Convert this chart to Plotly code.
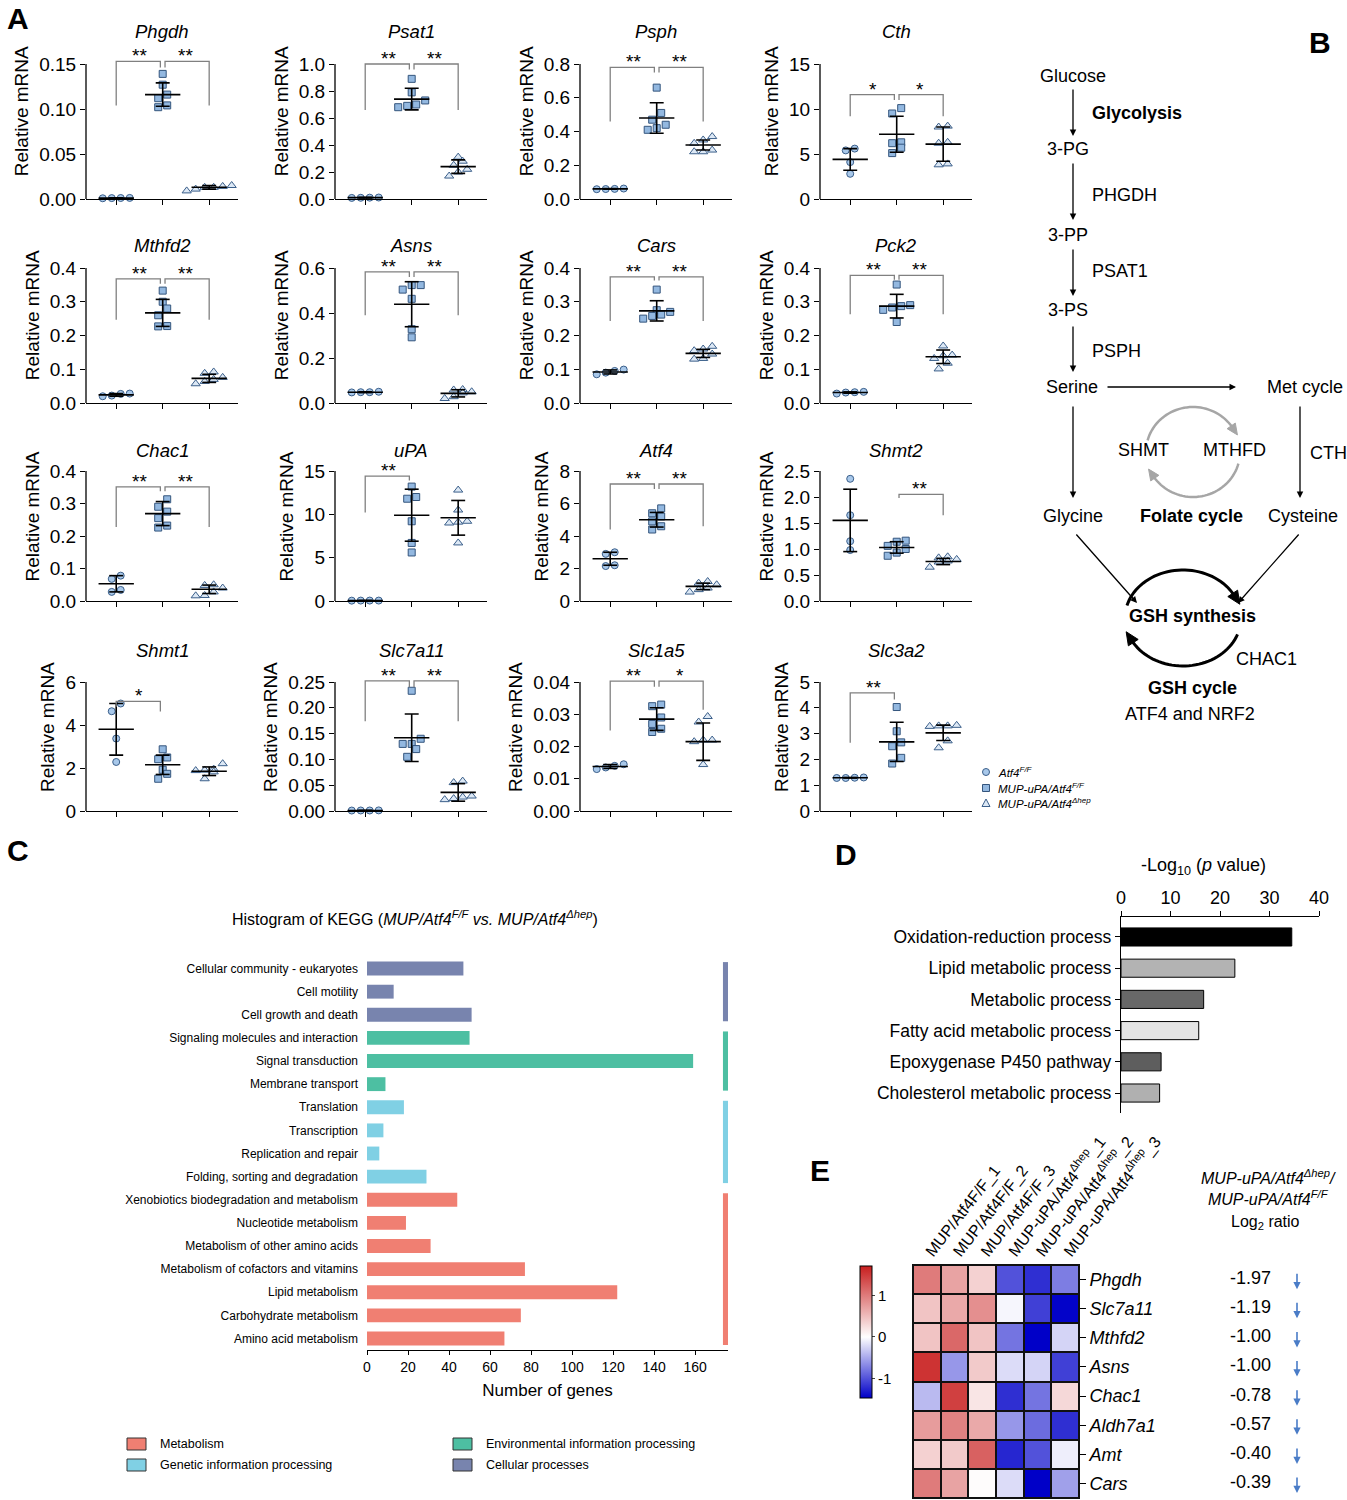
import math
import plotly.graph_objects as go

W, H = 1347, 1500
FONT = "Arial, Liberation Sans, Helvetica, sans-serif"

# ---------------- Panel A data ----------------
GENES = ["Phgdh", "Psat1", "Psph", "Cth",
         "Mthfd2", "Asns", "Cars", "Pck2",
         "Chac1", "uPA", "Atf4", "Shmt2",
         "Shmt1", "Slc7a11", "Slc1a5", "Slc3a2"]
Y_TOP = [0.15, 1.0, 0.8, 15, 0.4, 0.6, 0.4, 0.4, 0.4, 15, 8, 2.5, 6, 0.25, 0.04, 5]
Y_STEP = [0.05, 0.2, 0.2, 5, 0.1, 0.2, 0.1, 0.1, 0.1, 5, 2, 0.5, 2, 0.05, 0.01, 1]
Y_DEC = [2, 1, 1, 0, 1, 1, 1, 1, 1, 0, 0, 1, 0, 2, 2, 0]

WT_PTS = [
    [0.0012, 0.0008, 0.0010, 0.0011],
    [0.010, 0.008, 0.009, 0.011],
    [0.058, 0.062, 0.060, 0.059],
    [5.6, 5.4, 4.1, 2.8],
    [0.020, 0.028, 0.022, 0.027],
    [0.048, 0.050, 0.048, 0.047],
    [0.099, 0.095, 0.085, 0.090],
    [0.028, 0.033, 0.031, 0.032],
    [0.078, 0.068, 0.034, 0.028],
    [0.05, 0.05, 0.04, 0.05],
    [3.0, 2.9, 2.2, 2.15],
    [2.35, 1.65, 1.15, 0.98],
    [5.0, 4.64, 3.37, 2.28],
    [0.001, 0.001, 0.0012, 0.0009],
    [0.0145, 0.014, 0.0135, 0.013],
    [1.30, 1.28, 1.29, 1.28],
]
MUP_PTS = [
    [0.139, 0.127, 0.116, 0.112, 0.102, 0.104],
    [0.89, 0.79, 0.73, 0.70, 0.68, 0.69],
    [0.66, 0.51, 0.47, 0.44, 0.42, 0.41],
    [10.1, 9.5, 6.3, 6.2, 5.7, 5.1],
    [0.333, 0.30, 0.28, 0.26, 0.228, 0.227],
    [0.524, 0.524, 0.504, 0.463, 0.328, 0.292],
    [0.336, 0.275, 0.27, 0.262, 0.258, 0.25],
    [0.351, 0.29, 0.287, 0.283, 0.276, 0.24],
    [0.313, 0.29, 0.275, 0.255, 0.232, 0.226],
    [13.2, 12.0, 11.8, 9.2, 6.7, 5.6],
    [5.7, 5.4, 5.2, 4.9, 4.6, 4.4],
    [1.16, 1.14, 1.06, 1.0, 0.93, 0.87],
    [2.87, 2.49, 2.41, 1.92, 1.73, 1.5],
    [0.233, 0.14, 0.13, 0.13, 0.12, 0.105],
    [0.033, 0.0325, 0.029, 0.027, 0.0255, 0.0245],
    [4.03, 3.09, 2.66, 2.51, 2.06, 1.84],
]
HEP_PTS = [
    [0.011, 0.015, 0.013, 0.013, 0.009, 0.014],
    [0.31, 0.28, 0.25, 0.22, 0.20, 0.17],
    [0.37, 0.35, 0.33, 0.29, 0.28, 0.28],
    [8.1, 8.0, 6.3, 6.2, 3.8, 3.9],
    [0.088, 0.092, 0.076, 0.070, 0.064, 0.057],
    [0.06, 0.058, 0.05, 0.045, 0.028, 0.02],
    [0.168, 0.16, 0.155, 0.145, 0.132, 0.13],
    [0.169, 0.142, 0.14, 0.132, 0.118, 0.101],
    [0.05, 0.048, 0.04, 0.028, 0.016, 0.017],
    [12.8, 10.5, 9.2, 9.0, 9.1, 6.7],
    [1.2, 1.1, 1.0, 0.8, 0.7, 0.55],
    [0.85, 0.83, 0.80, 0.77, 0.75, 0.65],
    [2.2, 1.95, 1.9, 1.88, 1.82, 1.5],
    [0.058, 0.055, 0.029, 0.027, 0.024, 0.022],
    [0.0293, 0.0276, 0.022, 0.0215, 0.022, 0.0144],
    [3.32, 3.30, 3.28, 3.30, 2.72, 2.45],
]
WT_MEAN = [0.001, 0.01, 0.06, 4.4, 0.024, 0.048, 0.092, 0.031, 0.053, 0.05, 2.6, 1.55, 3.8, 0.001, 0.0138, 1.29]
WT_SD = [0.0002, 0.002, 0.002, 1.2, 0.004, 0.002, 0.006, 0.002, 0.025, 0.005, 0.4, 0.6, 1.2, 0.0002, 0.0006, 0.01]
MUP_MEAN = [0.116, 0.74, 0.48, 7.2, 0.267, 0.439, 0.273, 0.287, 0.269, 9.9, 5.0, 1.03, 2.15, 0.142, 0.0285, 2.68]
MUP_SD = [0.013, 0.08, 0.09, 2.0, 0.04, 0.10, 0.03, 0.035, 0.037, 3.0, 0.45, 0.11, 0.45, 0.046, 0.0035, 0.76]
HEP_MEAN = [0.013, 0.24, 0.32, 6.1, 0.073, 0.043, 0.147, 0.137, 0.036, 9.6, 0.9, 0.76, 1.85, 0.036, 0.0215, 3.03]
HEP_SD = [0.002, 0.05, 0.03, 1.9, 0.012, 0.016, 0.012, 0.02, 0.013, 2.0, 0.2, 0.06, 0.2, 0.017, 0.0058, 0.3]

# (group a, group b, label, bracket top, leg end at a, leg end at b)
BRACKETS = [
    [(0, 1, "**", 0.153, 0.104, 0.146), (1, 2, "**", 0.153, 0.146, 0.104)],
    [(0, 1, "**", 1.0, 0.66, 0.96), (1, 2, "**", 1.0, 0.96, 0.66)],
    [(0, 1, "**", 0.78, 0.46, 0.75), (1, 2, "**", 0.78, 0.75, 0.46)],
    [(0, 1, "*", 11.6, 9.2, 11.0), (1, 2, "*", 11.6, 11.0, 9.2)],
    [(0, 1, "**", 0.368, 0.247, 0.353), (1, 2, "**", 0.368, 0.353, 0.247)],
    [(0, 1, "**", 0.583, 0.39, 0.56), (1, 2, "**", 0.583, 0.56, 0.39)],
    [(0, 1, "**", 0.374, 0.243, 0.363), (1, 2, "**", 0.374, 0.363, 0.243)],
    [(0, 1, "**", 0.378, 0.263, 0.365), (1, 2, "**", 0.378, 0.365, 0.263)],
    [(0, 1, "**", 0.351, 0.228, 0.338), (1, 2, "**", 0.351, 0.338, 0.228)],
    [(0, 1, "**", 14.4, 10.2, 13.9)],
    [(0, 1, "**", 7.2, 4.4, 6.9), (1, 2, "**", 7.2, 6.9, 4.6)],
    [(1, 2, "**", 2.05, 1.98, 1.65)],
    [(0, 1, "*", 5.1, 4.85, 4.63)],
    [(0, 1, "**", 0.252, 0.174, 0.24), (1, 2, "**", 0.252, 0.24, 0.174)],
    [(0, 1, "**", 0.0403, 0.025, 0.0385), (1, 2, "*", 0.0403, 0.0385, 0.0314)],
    [(0, 1, "**", 4.58, 2.65, 4.32)],
]

# ---------------- Panel C data ----------------
KEGG_TERMS = ["Cellular community - eukaryotes", "Cell motility", "Cell growth and death",
              "Signaling molecules and interaction", "Signal transduction", "Membrane transport",
              "Translation", "Transcription", "Replication and repair",
              "Folding, sorting and degradation", "Xenobiotics biodegradation and metabolism",
              "Nucleotide metabolism", "Metabolism of other amino acids",
              "Metabolism of cofactors and vitamins", "Lipid metabolism",
              "Carbohydrate metabolism", "Amino acid metabolism"]
KEGG_COUNTS = [47, 13, 51, 50, 159, 9, 18, 8, 6, 29, 44, 19, 31, 77, 122, 75, 67]
KEGG_CLASS = (["Cellular processes"] * 3 + ["Environmental information processing"] * 3 +
              ["Genetic information processing"] * 4 + ["Metabolism"] * 7)
CLASS_COLORS = {"Metabolism": "#f07f72", "Genetic information processing": "#80d0e4",
                "Environmental information processing": "#4dbfa2", "Cellular processes": "#7884ae"}

# ---------------- Panel D data ----------------
GO_TERMS = ["Oxidation-reduction process", "Lipid metabolic process", "Metabolic process",
            "Fatty acid metabolic process", "Epoxygenase P450 pathway", "Cholesterol metabolic process"]
GO_LOGP = [34.5, 23.0, 16.7, 15.7, 8.1, 7.8]
GO_COLORS = ["#000000", "#b3b3b3", "#686868", "#e4e4e4", "#5e5e5e", "#b0b0b0"]

# ---------------- Panel E data ----------------
HM_GENES = ["Phgdh", "Slc7a11", "Mthfd2", "Asns", "Chac1", "Aldh7a1", "Amt", "Cars"]
HM_SAMPLES = ["MUP/Atf4F/F_1", "MUP/Atf4F/F_2", "MUP/Atf4F/F_3",
              "MUP-uPA/Atf4<sup>Δhep</sup>_1", "MUP-uPA/Atf4<sup>Δhep</sup>_2", "MUP-uPA/Atf4<sup>Δhep</sup>_3"]
HM_Z = [
    [1.0, 0.7, 0.35, -1.0, -1.2, -0.75],
    [0.45, 0.65, 0.85, -0.05, -1.1, -1.45],
    [0.45, 1.15, 0.45, -0.8, -1.5, -0.25],
    [1.55, -0.6, 0.4, -0.2, -0.25, -1.1],
    [-0.4, 1.45, 0.2, -1.2, -0.8, 0.3],
    [0.75, 0.95, 0.65, -0.6, -0.85, -1.2],
    [0.35, 0.4, 1.2, -1.25, -1.0, -0.1],
    [1.0, 0.7, 0.02, -0.2, -1.6, -0.55],
]
LOG2_RATIO = [-1.97, -1.19, -1.00, -1.00, -0.78, -0.57, -0.40, -0.39]


def fx(p):
    return p / W


def fy(p):
    return 1 - p / H


fig = go.Figure()
annotations = []
shapes = []
axes = {}


def text(x, y, s, size=18, xanchor="center", bold=False, color="black", yanchor="middle"):
    if bold:
        s = "<b>" + s + "</b>"
    annotations.append(dict(x=fx(x), y=fy(y), xref="paper", yref="paper", text=s, showarrow=False,
                            xanchor=xanchor, yanchor=yanchor,
                            font=dict(size=size, color=color, family=FONT)))


def arrow(x0, y0, x1, y1, width=1.3, color="black", size=1.0):
    annotations.append(dict(x=fx(x1), y=fy(y1), xref="paper", yref="paper", text="",
                            showarrow=True, ax=x0 - x1, ay=y0 - y1, arrowhead=2,
                            arrowsize=size, arrowwidth=width, arrowcolor=color, standoff=0))


def swarm(vals, ppu, step=9.0, xscale=46.5):
    order = sorted(range(len(vals)), key=lambda k: vals[k])
    offs = [0.0] * len(vals)
    bands, band = [], []
    for k in order:
        if band and (vals[k] - vals[band[0]]) * ppu > 8:
            bands.append(band)
            band = []
        band.append(k)
    if band:
        bands.append(band)
    for b in bands:
        m = len(b)
        for j, k in enumerate(b):
            offs[k] = (j - (m - 1) / 2) * step / xscale
    return offs


# ---------------- Panel A ----------------
COL_AXIS_PX = [86, 335, 580, 820]
ROW_TOP_PX = [64, 268, 471, 682]
ROW_BOT_PX = [199, 403, 601, 811]
ROW_TITLE_PX = [32, 245, 450, 651]
EXT = 1.3

STYLES = [("circle", 7, "#a8c8ea", "#3b5f8a"),
          ("square", 7, "#93b8e0", "#34557d"),
          ("triangle-up", 8, "#dce8f5", "#3b5f8a")]

for i, gene in enumerate(GENES):
    n = i + 1
    xa = "x" if n == 1 else f"x{n}"
    ya = "y" if n == 1 else f"y{n}"
    r, c = divmod(i, 4)
    x0 = COL_AXIS_PX[c]
    top_px, bot_px = ROW_TOP_PX[r], ROW_BOT_PX[r]
    top = Y_TOP[i]
    ppu = (bot_px - top_px) / top
    dom_top = bot_px - (bot_px - top_px) * EXT
    nt = int(round(top / Y_STEP[i]))
    tv = [k * Y_STEP[i] for k in range(nt + 1)]
    tt = [f"{v:.{Y_DEC[i]}f}" for v in tv]
    axes["xaxis" if n == 1 else f"xaxis{n}"] = dict(
        domain=[fx(x0), fx(x0 + 152)], range=[-0.65, 2.62], anchor=ya,
        showline=True, linecolor="black", linewidth=1.3, ticks="outside", ticklen=5,
        tickcolor="black", tickwidth=1.3, tickvals=[0, 1, 2], showticklabels=False,
        showgrid=False, zeroline=False, automargin=False)
    axes["yaxis" if n == 1 else f"yaxis{n}"] = dict(
        domain=[fy(bot_px), fy(dom_top)], range=[0, top * EXT], anchor=xa,
        showline=False, ticks="outside", ticklen=5, tickcolor="black", tickwidth=1.3,
        tickvals=tv, ticktext=tt, tickfont=dict(size=19, family=FONT, color="black"),
        showgrid=False, zeroline=False, automargin=False,
        title=dict(text="Relative mRNA", font=dict(size=19, family=FONT, color="black"), standoff=5))
    shapes.append(dict(type="line", xref=f"{xa} domain", yref=ya, x0=0, x1=0, y0=0, y1=top,
                       line=dict(color="black", width=1.3)))

    groups = [WT_PTS[i], MUP_PTS[i], HEP_PTS[i]]
    for g, pts in enumerate(groups):
        sym, sz, fill, edge = STYLES[g]
        offs = swarm(pts, ppu)
        fig.add_trace(go.Scatter(x=[g + o for o in offs], y=pts, mode="markers", xaxis=xa, yaxis=ya,
                                 marker=dict(symbol=sym, size=sz, color=fill, line=dict(color=edge, width=1)),
                                 cliponaxis=False, showlegend=False, hoverinfo="skip"))
    ex, ey = [], []
    for g, (m, s) in enumerate(zip([WT_MEAN[i], MUP_MEAN[i], HEP_MEAN[i]],
                                   [WT_SD[i], MUP_SD[i], HEP_SD[i]])):
        ex += [g - 0.38, g + 0.38, None, g, g, None, g - 0.15, g + 0.15, None, g - 0.15, g + 0.15, None]
        ey += [m, m, None, m - s, m + s, None, m + s, m + s, None, m - s, m - s, None]
    fig.add_trace(go.Scatter(x=ex, y=ey, mode="lines", xaxis=xa, yaxis=ya,
                             line=dict(color="black", width=1.6), showlegend=False, hoverinfo="skip"))
    bx, by = [], []
    for (a, b, lab, yt, la, lb) in BRACKETS[i]:
        xa_ = a + (0.05 if a == 1 else 0)
        xb_ = b - (0.05 if b == 1 else 0)
        bx += [xa_, xa_, xb_, xb_, None]
        by += [la, yt, yt, lb, None]
        annotations.append(dict(x=(a + b) / 2, y=yt, xref=xa, yref=ya, text=lab, showarrow=False,
                                xanchor="center", yanchor="bottom", yshift=-7,
                                font=dict(size=19, family=FONT, color="black")))
    fig.add_trace(go.Scatter(x=bx, y=by, mode="lines", xaxis=xa, yaxis=ya,
                             line=dict(color="#808080", width=1.3), showlegend=False, hoverinfo="skip"))
    text(x0 + 76, ROW_TITLE_PX[r], f"<i>{gene}</i>", size=18.5)

# legend of panel A
shapes.append(dict(type="circle", xref="paper", yref="paper", x0=fx(982.5), x1=fx(989.5),
                   y0=fy(775.5), y1=fy(768.5), fillcolor="#a8c8ea", line=dict(color="#3b5f8a", width=1)))
shapes.append(dict(type="rect", xref="paper", yref="paper", x0=fx(982.5), x1=fx(989.5),
                   y0=fy(791.5), y1=fy(784.5), fillcolor="#93b8e0", line=dict(color="#34557d", width=1)))
shapes.append(dict(type="path", xref="paper", yref="paper",
                   path=f"M {fx(982)},{fy(806.5)} L {fx(990)},{fy(806.5)} L {fx(986)},{fy(799)} Z",
                   fillcolor="#dce8f5", line=dict(color="#3b5f8a", width=1)))
for yy, s in [(772, "Atf4<sup>F/F</sup>"), (788, "MUP-uPA/Atf4<sup>F/F</sup>"),
              (803, "MUP-uPA/Atf4<sup>Δhep</sup>")]:
    text(996, yy, f"<i>{s}</i>", size=11.5, xanchor="left")

# ---------------- Panel B ----------------
for x, y, s, anc, b in [
    (1073, 76, "Glucose", "center", False), (1090, 113, "Glycolysis", "left", True),
    (1068, 149, "3-PG", "center", False), (1090, 195, "PHGDH", "left", False),
    (1068, 235, "3-PP", "center", False), (1090, 271, "PSAT1", "left", False),
    (1068, 310, "3-PS", "center", False), (1090, 351, "PSPH", "left", False),
    (1072, 387, "Serine", "center", False), (1305, 387, "Met cycle", "center", False),
    (1143, 450, "SHMT", "center", False), (1234, 450, "MTHFD", "center", False),
    (1328, 453, "CTH", "center", False), (1073, 516, "Glycine", "center", False),
    (1191, 516, "Folate cycle", "center", True), (1303, 516, "Cysteine", "center", False),
    (1192, 616, "GSH synthesis", "center", True), (1266, 659, "CHAC1", "center", False),
    (1192, 688, "GSH cycle", "center", True), (1190, 714, "ATF4 and NRF2", "center", False),
]:
    text(x, y, s, xanchor=anc, bold=b)

for seg in [(1073, 88, 1073, 136), (1073, 162, 1073, 220), (1073, 248, 1073, 296),
            (1073, 325, 1073, 372), (1106, 387, 1236, 387), (1073, 405, 1073, 498),
            (1300, 405, 1300, 498), (1075, 533, 1137, 603), (1300, 533, 1238, 603)]:
    arrow(*seg)


def arc(cx, cy, rx, ry, a0, a1, color, width, head):
    pts = []
    steps = 40
    for k in range(steps + 1):
        t = math.radians(a0 + (a1 - a0) * k / steps)
        pts.append((cx + rx * math.cos(t), cy + ry * math.sin(t)))
    path = "M " + " L ".join(f"{fx(px)},{fy(py)}" for px, py in pts)
    shapes.append(dict(type="path", xref="paper", yref="paper", path=path,
                       line=dict(color=color, width=width)))
    (px1, py1), (px2, py2) = pts[-3], pts[-1]
    d = math.hypot(px2 - px1, py2 - py1)
    ux, uy = (px2 - px1) / d, (py2 - py1) / d
    tipx, tipy = px2 + ux * head * 0.6, py2 + uy * head * 0.6
    bx, by = tipx - ux * head, tipy - uy * head
    w = head * 0.45
    tri = [(tipx, tipy), (bx - uy * w, by + ux * w), (bx + uy * w, by - ux * w)]
    shapes.append(dict(type="path", xref="paper", yref="paper",
                       path="M " + " L ".join(f"{fx(a)},{fy(b)}" for a, b in tri) + " Z",
                       fillcolor=color, line=dict(color=color, width=1)))


arc(1193, 452, 47, 45, 195, 330, "#a6a6a6", 2.5, 11)
arc(1193, 452, 47, 45, 15, 150, "#a6a6a6", 2.5, 11)
arc(1183, 618, 58, 48, 195, 335, "black", 3, 13)
arc(1183, 618, 58, 48, 20, 155, "black", 3, 13)

# ---------------- Panel C ----------------
ny = len(KEGG_TERMS)
fig.add_trace(go.Bar(x=KEGG_COUNTS, y=list(range(ny)), orientation="h", width=0.6,
                     marker=dict(color=[CLASS_COLORS[c] for c in KEGG_CLASS], line=dict(width=0)),
                     xaxis="x17", yaxis="y17", showlegend=False, hoverinfo="skip"))
for cls in ["Cellular processes", "Environmental information processing",
            "Genetic information processing", "Metabolism"]:
    idx = [k for k, c in enumerate(KEGG_CLASS) if c == cls]
    fig.add_trace(go.Scatter(x=[175, 175], y=[min(idx) - 0.28, max(idx) + 0.28], mode="lines",
                             line=dict(color=CLASS_COLORS[cls], width=6), xaxis="x17", yaxis="y17",
                             showlegend=False, hoverinfo="skip"))
axes["xaxis17"] = dict(domain=[fx(367), fx(728)], range=[0, 176], anchor="y17", showline=True,
                       linecolor="black", linewidth=1, ticks="outside", ticklen=4, tickcolor="black",
                       tickvals=list(range(0, 161, 20)), tickfont=dict(size=14, family=FONT, color="black"),
                       showgrid=False, zeroline=False, automargin=False,
                       title=dict(text="Number of genes", font=dict(size=17, family=FONT, color="black"),
                                  standoff=10))
axes["yaxis17"] = dict(domain=[fy(1350), fy(957)], range=[ny - 0.5, -0.5], anchor="x17",
                       showline=False, ticks="", tickvals=list(range(ny)), ticktext=KEGG_TERMS,
                       ticklabelstandoff=8,
                       tickfont=dict(size=12, family=FONT, color="black"), showgrid=False,
                       zeroline=False, automargin=False)
text(415, 918, "Histogram of KEGG (<i>MUP/Atf4<sup>F/F</sup> vs. MUP/Atf4<sup>Δhep</sup></i>)", size=16)
for (bx, by, cls) in [(127, 1444, "Metabolism"), (127, 1465, "Genetic information processing"),
                      (453, 1444, "Environmental information processing"),
                      (453, 1465, "Cellular processes")]:
    shapes.append(dict(type="rect", xref="paper", yref="paper", x0=fx(bx), x1=fx(bx + 19),
                       y0=fy(by + 6), y1=fy(by - 6), fillcolor=CLASS_COLORS[cls],
                       line=dict(color="#333333", width=1)))
    text(bx + 31, by, cls, size=12.5, xanchor="left")

# ---------------- Panel D ----------------
fig.add_trace(go.Bar(x=GO_LOGP, y=list(range(len(GO_TERMS))), orientation="h", width=0.58,
                     marker=dict(color=GO_COLORS, line=dict(color="black", width=1)),
                     xaxis="x18", yaxis="y18", showlegend=False, hoverinfo="skip"))
axes["xaxis18"] = dict(domain=[fx(1121), fx(1319)], range=[0, 40], anchor="y18", side="top",
                       showline=True, linecolor="black", linewidth=1.3, ticks="outside", ticklen=5,
                       tickcolor="black", tickwidth=1.3, tickvals=[0, 10, 20, 30, 40],
                       tickfont=dict(size=18, family=FONT, color="black"), showgrid=False,
                       zeroline=False, automargin=False)
axes["yaxis18"] = dict(domain=[fy(1113), fy(917)], range=[5.64, -0.64], anchor="x18",
                       showline=True, linecolor="black", linewidth=1.3, ticks="outside", ticklen=5,
                       tickcolor="black", tickwidth=1.3, tickvals=list(range(len(GO_TERMS))),
                       ticktext=GO_TERMS, tickfont=dict(size=17.5, family=FONT, color="black"),
                       showgrid=False, zeroline=False, automargin=False)
text(1203, 866, "-Log<sub>10</sub> (<i>p</i> value)", size=18)

# ---------------- Panel E ----------------
zmin, zmax = -1.47, 1.71
mid = -zmin / (zmax - zmin)
shapes.append(dict(type="rect", xref="paper", yref="paper", layer="below",
                   x0=fx(912), x1=fx(1080), y0=fy(1499), y1=fy(1264), fillcolor="#111111",
                   line=dict(width=0)))
fig.add_trace(go.Heatmap(z=HM_Z, x=list(range(6)), y=list(range(8)), xaxis="x19", yaxis="y19",
                         zmin=zmin, zmax=zmax, xgap=2, ygap=2, hoverinfo="skip",
                         colorscale=[[0, "#0000c8"], [mid, "#ffffff"], [1, "#c81e1e"]],
                         colorbar=dict(x=fx(860), xanchor="left", y=fy(1266), yanchor="top",
                                       len=(1398 - 1266) / H, lenmode="fraction", thickness=12,
                                       thicknessmode="pixels", outlinecolor="black", outlinewidth=1,
                                       tickvals=[-1, 0, 1], ticktext=["-1", "0", "1"], ticks="outside",
                                       ticklen=3, xpad=0, ypad=0,
                                       tickfont=dict(size=15, family=FONT, color="black"))))
axes["xaxis19"] = dict(domain=[fx(913), fx(1079)], range=[-0.5, 5.5], anchor="y19", side="top",
                       showline=False, ticks="", tickvals=list(range(6)), ticktext=HM_SAMPLES,
                       tickangle=-52, tickfont=dict(size=16, family=FONT, color="black"),
                       showgrid=False, zeroline=False, automargin=False)
axes["yaxis19"] = dict(domain=[fy(1498), fy(1265)], range=[7.5, -0.5], anchor="x19", side="right",
                       showline=False, ticks="outside", ticklen=6, tickcolor="black", tickwidth=1.3,
                       tickvals=list(range(8)), ticktext=[f"<i>{g}</i>" for g in HM_GENES],
                       tickfont=dict(size=18, family=FONT, color="black"), showgrid=False,
                       zeroline=False, automargin=False)
for k, v in enumerate(LOG2_RATIO):
    annotations.append(dict(x=fx(1250), y=k - 0.05, xref="paper", yref="y19", text=f"{v:.2f}",
                            xanchor="center", showarrow=False,
                            font=dict(size=18, family=FONT, color="black")))
    annotations.append(dict(x=fx(1297), y=k + 0.33, xref="paper", yref="y19", text="", showarrow=True,
                            ax=0, ay=-17, arrowhead=2, arrowsize=0.9, arrowwidth=1.6,
                            arrowcolor="#4a7cc7", standoff=0))
text(1268, 1187, "<i>MUP-uPA/Atf4<sup>Δhep</sup>/</i><br><i>MUP-uPA/Atf4<sup>F/F</sup></i>", size=16)
text(1265, 1222, "Log<sub>2</sub> ratio", size=16)

# panel letters
for x, y, s in [(18, 18, "A"), (1320, 42, "B"), (18, 850, "C"), (846, 855, "D"), (820, 1170, "E")]:
    text(x, y, s, size=30, bold=True)

fig.update_layout(width=W, height=H, margin=dict(l=0, r=0, t=0, b=0), template="none",
                  plot_bgcolor="white", paper_bgcolor="white", showlegend=False,
                  font=dict(family=FONT, color="black"), annotations=annotations, shapes=shapes,
                  **axes)
fig.write_html("out.html", config={"displayModeBar": False},
               post_script="document.body.style.margin='0px';")
